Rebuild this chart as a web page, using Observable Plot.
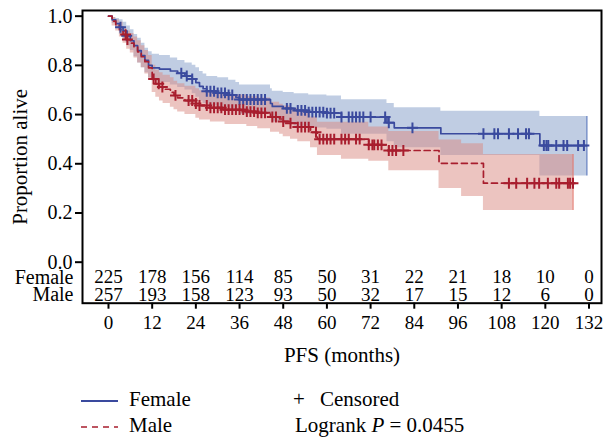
<!DOCTYPE html>
<html>
<head>
<meta charset="utf-8">
<script src="https://cdn.jsdelivr.net/npm/d3@7"></script>
<script src="https://cdn.jsdelivr.net/npm/@observablehq/plot@0.6"></script>
<style>
  html, body { margin: 0; padding: 0; background: #fff; }
  #wrap { position: relative; width: 604px; height: 442px; font-family: "Liberation Serif", serif; color: #000; }
  #wrap > svg { position: absolute; left: 0; top: 0; }
  g[aria-label="x-axis tick"], g[aria-label="y-axis tick"] { stroke-width: 2px; }
  g[aria-label="y-axis tick label"] { font-size: 20px; }
  .leg { position: absolute; font-size: 21px; line-height: 22px; white-space: nowrap; }
</style>
</head>
<body>
<div id="wrap"></div>
<script>
// ---- Data ----
const riskTimes    = [0, 12, 24, 36, 48, 60, 72, 84, 96, 108, 120, 132];
const femaleAtRisk = [225, 178, 156, 114, 85, 50, 31, 22, 21, 18, 10, 0];
const maleAtRisk   = [257, 193, 158, 123, 93, 50, 32, 17, 15, 12, 6, 0];

// Female Kaplan-Meier step estimate with 95% CI
const fTime = [0,1,2,3,4,5,6,7,8,9,10,11,12,14,17,19,21,23,24,25,26,27,30,33,35,36,44.5,45,48,51,55,60,64,76.5,78.5,91.3,118.5,131.4];
const fSurv = [1,0.985,0.97,0.955,0.94,0.92,0.9,0.88,0.86,0.84,0.82,0.80,0.79,0.785,0.777,0.768,0.757,0.745,0.73,0.715,0.705,0.695,0.688,0.68,0.67,0.661,0.645,0.633,0.625,0.617,0.61,0.606,0.59,0.567,0.546,0.522,0.474,0.474];
const fLow  = [1,0.97,0.95,0.925,0.905,0.88,0.86,0.835,0.81,0.79,0.77,0.75,0.735,0.73,0.72,0.71,0.7,0.685,0.67,0.655,0.645,0.635,0.628,0.62,0.61,0.6,0.585,0.57,0.56,0.553,0.545,0.54,0.52,0.49,0.465,0.434,0.35,0.35];
const fHigh = [1,0.995,0.99,0.985,0.975,0.96,0.945,0.925,0.91,0.89,0.87,0.855,0.845,0.84,0.83,0.82,0.81,0.8,0.79,0.775,0.765,0.755,0.75,0.74,0.73,0.72,0.705,0.695,0.69,0.685,0.68,0.675,0.66,0.645,0.628,0.613,0.592,0.592];
const fCensor = [3.3,5,20,21.5,23,27,28,29,30,31,32,33,34,36,37,38,39,40,41,42,43,49,50,52,53,54,55,56,57,58,59,60,61,62,64,66,67,68,69,70,72,76,77,83.5,103,106,107,110,112.5,114.7,115.5,119.6,120.3,120.8,123,125,126,129,130.6];

// Male Kaplan-Meier step estimate with 95% CI
const mTime = [0,1,2,3,4,5,6,7,8,9,10,11,12,13,14,15,17,18,19,21,24,25,28,32,38,41,44.5,47,48,50,52,55.5,57.4,64,71.5,77,90.8,97,103,127.6];
const mSurv = [1,0.98,0.965,0.945,0.925,0.905,0.89,0.875,0.855,0.835,0.815,0.79,0.745,0.725,0.712,0.703,0.69,0.678,0.668,0.657,0.645,0.637,0.628,0.62,0.612,0.607,0.59,0.582,0.572,0.565,0.549,0.528,0.50,0.50,0.477,0.454,0.402,0.402,0.321,0.321];
const mLow  = [1,0.96,0.94,0.915,0.89,0.865,0.85,0.83,0.81,0.79,0.765,0.74,0.69,0.67,0.655,0.645,0.63,0.62,0.61,0.6,0.585,0.578,0.57,0.56,0.552,0.542,0.528,0.52,0.51,0.5,0.49,0.465,0.434,0.418,0.41,0.372,0.30,0.267,0.21,0.21];
const mHigh = [1,0.995,0.985,0.975,0.955,0.94,0.93,0.915,0.9,0.88,0.86,0.84,0.8,0.78,0.77,0.76,0.75,0.735,0.725,0.715,0.705,0.697,0.69,0.68,0.672,0.667,0.65,0.642,0.635,0.625,0.61,0.59,0.569,0.569,0.549,0.531,0.497,0.481,0.438,0.438];
const mCensor = [4.7,5.2,12.4,13.8,14.8,18.4,22,23,24,25,27,28,29,30,31,32,33,34,35,36,37,38,39,40,41,42,43,45,46,48,50,52,53,54,55,57,58,59,60,61,62,64,65,66,68,69,71.5,72.5,73,74,75,77,78,79,81,110,112,115,117,118.3,120.7,123,123.8,126.2,126.8,127.6];

// ---- Build tables ----
const female = fTime.map((t, i) => ({t, s: fSurv[i], lo: fLow[i], hi: fHigh[i]}));
const male   = mTime.map((t, i) => ({t, s: mSurv[i], lo: mLow[i], hi: mHigh[i]}));
function survAt(times, surv, t) {
  let k = 0;
  for (let i = 0; i < times.length; i++) if (times[i] <= t) k = i;
  return surv[k];
}
const fCens = fCensor.map(t => ({t, s: survAt(fTime, fSurv, t)}));
const mCens = mCensor.map(t => ({t, s: survAt(mTime, mSurv, t)}));
const riskF = riskTimes.map((t, i) => ({t, n: femaleAtRisk[i]}));
const riskM = riskTimes.map((t, i) => ({t, n: maleAtRisk[i]}));

const BLUE = "#3a4a9e", RED = "#a81e2e";
const FS = 19;
const rowF = -0.061, rowM = -0.131;

const chart = Plot.plot({
  width: 604,
  height: 380,
  marginLeft: 82,
  marginRight: 3,
  marginTop: 10,
  marginBottom: 77.3,
  style: {fontFamily: "Liberation Serif, serif", fontSize: FS + "px", color: "#000", background: "#fff"},
  x: {domain: [-7.14, 135.43], ticks: riskTimes, tickSize: 6, tickPadding: 6, label: null},
  y: {domain: [-0.1667, 1.023], ticks: [0, 0.2, 0.4, 0.6, 0.8, 1.0], tickFormat: ".1f", tickSize: 7, tickPadding: 3, label: null},
  marks: [
    Plot.areaY(female, {x: "t", y1: "lo", y2: "hi", curve: "step-after", fill: "rgb(58,99,168)", fillOpacity: 0.32}),
    Plot.areaY(male, {x: "t", y1: "lo", y2: "hi", curve: "step-after", fill: "rgb(217,137,129)", fillOpacity: 0.5}),
    Plot.ruleX([fTime[fTime.length - 1]], {y1: fLow[fLow.length - 1], y2: fHigh[fHigh.length - 1], stroke: "rgb(120,145,200)", strokeWidth: 1.5}),
    Plot.ruleX([mTime[mTime.length - 1]], {y1: mLow[mLow.length - 1], y2: mHigh[mHigh.length - 1], stroke: "rgb(225,120,110)", strokeWidth: 1.2}),
    Plot.line(female, {x: "t", y: "s", curve: "step-after", stroke: BLUE, strokeWidth: 1.7}),
    Plot.line(male, {x: "t", y: "s", curve: "step-after", stroke: RED, strokeWidth: 1.7, strokeDasharray: "6,4"}),
    Plot.dot(fCens, {x: "t", y: "s", symbol: "plus", r: 3.6, stroke: BLUE, strokeWidth: 2}),
    Plot.dot(mCens, {x: "t", y: "s", symbol: "plus", r: 3.6, stroke: RED, strokeWidth: 2}),
    Plot.text(riskF, {x: "t", y: () => rowF, text: "n", fontSize: FS}),
    Plot.text(riskM, {x: "t", y: () => rowM, text: "n", fontSize: FS}),
    Plot.text(["Female"], {frameAnchor: "left", y: () => rowF, text: d => d, textAnchor: "end", dx: -9, fontSize: 20}),
    Plot.text(["Male"], {frameAnchor: "left", y: () => rowM, text: d => d, textAnchor: "end", dx: -9, fontSize: 20}),
    Plot.text(["PFS (months)"], {frameAnchor: "bottom", text: d => d, lineAnchor: "middle", dy: 52, fontSize: 21}),
    Plot.text(["Proportion alive"], {frameAnchor: "left", text: d => d, textAnchor: "middle", rotate: -90, dx: -62, fontSize: 21}),
    Plot.frame({stroke: "#000", strokeWidth: 2})
  ]
});

const wrap = document.getElementById("wrap");
wrap.appendChild(chart);

// ---- Legend below the chart ----
const legend = [
  {html: '<svg width="37" height="6" style="vertical-align:middle"><line x1="0" y1="3" x2="37" y2="3" stroke="' + BLUE + '" stroke-width="2"/></svg>', x: 81, y: 388},
  {html: 'Female', x: 129, y: 388},
  {html: '<svg width="37" height="6" style="vertical-align:middle"><line x1="0" y1="3" x2="37" y2="3" stroke="' + RED + '" stroke-width="1.7" stroke-dasharray="6,5"/></svg>', x: 81, y: 414},
  {html: 'Male', x: 129, y: 414},
  {html: '+', x: 293, y: 388},
  {html: 'Censored', x: 320, y: 388},
  {html: 'Logrank <i>P</i> = 0.0455', x: 295, y: 414}
];
for (const l of legend) {
  const d = document.createElement("div");
  d.className = "leg";
  d.style.left = l.x + "px";
  d.style.top = l.y + "px";
  d.innerHTML = l.html;
  wrap.appendChild(d);
}
</script>
</body>
</html>
